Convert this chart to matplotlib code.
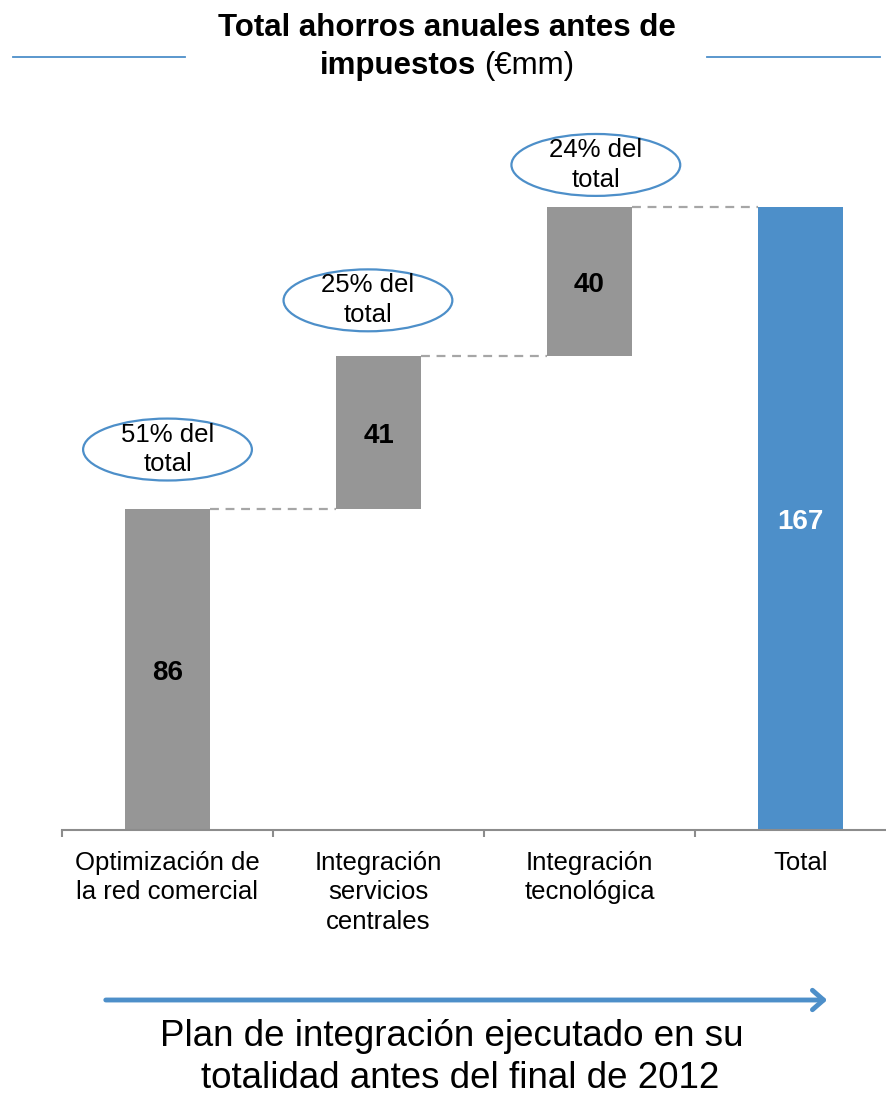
import matplotlib.pyplot as plt
from matplotlib.patches import Ellipse, FancyArrowPatch

plt.rcParams['font.family'] = ['Liberation Sans', 'DejaVu Sans']

# Savings per initiative (EUR mm) and the resulting total
categories = ['Optimización de\nla red comercial', 'Integración\nservicios\ncentrales',
              'Integración\ntecnológica', 'Total']
steps = [86, 41, 40]
total = 167
shares = ['51% del\ntotal', '25% del\ntotal', '24% del\ntotal']

GREY = '#969696'
BLUE = '#4d8fc9'

fig = plt.figure(figsize=(8.86, 10.96), dpi=100)
W, H = 886, 1096
ax = fig.add_axes([62 / W, (H - 830) / H, (886 - 62) / W, 800 / H])

# waterfall: floating grey steps, then the blue total bar
bottoms = [0]
for v in steps[:-1]:
    bottoms.append(bottoms[-1] + v)
xs = list(range(len(steps)))
width = 0.40
ax.bar(xs, steps, bottom=bottoms, width=width, color=GREY, zorder=2)
ax.bar(len(steps), total, width=width, color=BLUE, zorder=2)

for x, b, v in zip(xs, bottoms, steps):
    ax.text(x, b + v / 2 - 0.8, str(v), ha='center', va='center',
            fontsize=20, fontweight='bold', color='black')
ax.text(len(steps), total / 2 - 0.8, str(total), ha='center', va='center',
        fontsize=20, fontweight='bold', color='white')

# dashed connectors between consecutive bar tops
tops = [b + v for b, v in zip(bottoms, steps)]
for i, t in enumerate(tops):
    ax.plot([i + width / 2, i + 1 - width / 2], [t, t], ls=(0, (4, 3)),
            color='#a6a6a6', lw=1.6, zorder=1)

# share-of-total callouts
ell_pos = [(0.0, 102), (0.95, 142), (2.03, 178.3)]
for (ex, ey), s in zip(ell_pos, shares):
    ax.add_patch(Ellipse((ex, ey), 0.80, 16.6, facecolor='white',
                         edgecolor=BLUE, lw=1.6, zorder=3, clip_on=False))
    ax.text(ex, ey, s, ha='center', va='center', fontsize=18.5,
            linespacing=1.3, zorder=4)

ax.set_xlim(-0.5, (886 - 62) / 211 - 0.5)
ax.set_ylim(0, 800 / 3.73)
for side in ['left', 'right', 'top']:
    ax.spines[side].set_visible(False)
ax.spines['bottom'].set_color('#8c8c8c')
ax.spines['bottom'].set_linewidth(1.5)
ax.set_yticks([])
ax.set_xticks([-0.5, 0.5, 1.5, 2.5])
ax.set_xticklabels([])
ax.tick_params(axis='x', length=5, width=1.5, color='#8c8c8c', direction='out')
for i, c in enumerate(categories):
    ax.text(i, -5.5, c, ha='center', va='top', fontsize=18.5, linespacing=1.3)

# title with side rules
fig.text(447 / W, 1 - 28 / H, 'Total ahorros anuales antes de', ha='center', va='center',
         fontsize=22.5, fontweight='bold')
fig.text(476 / W, 1 - 66 / H, 'impuestos', ha='right', va='center',
         fontsize=22.5, fontweight='bold')
fig.text(484 / W, 1 - 66 / H, '(€mm)', ha='left', va='center', fontsize=22.5)
fig.add_artist(plt.Line2D([13 / W, 185 / W], [1 - 57 / H] * 2, color=BLUE, lw=1.3))
fig.add_artist(plt.Line2D([707 / W, 880 / W], [1 - 57 / H] * 2, color=BLUE, lw=1.3))

# timeline arrow and footnote
fig.add_artist(FancyArrowPatch(
    (103 / W, 1 - 1000 / H), (830 / W, 1 - 1000 / H), transform=fig.transFigure,
    arrowstyle='->,head_length=8,head_width=7', color=BLUE, lw=3.5))
fig.text(452 / W, 1 - 1036 / H, 'Plan de integración ejecutado en su', ha='center',
         va='center', fontsize=26.5)
fig.text(460 / W, 1 - 1078 / H, 'totalidad antes del final de 2012', ha='center',
         va='center', fontsize=26.5)

fig.savefig('out.png', dpi=100)
